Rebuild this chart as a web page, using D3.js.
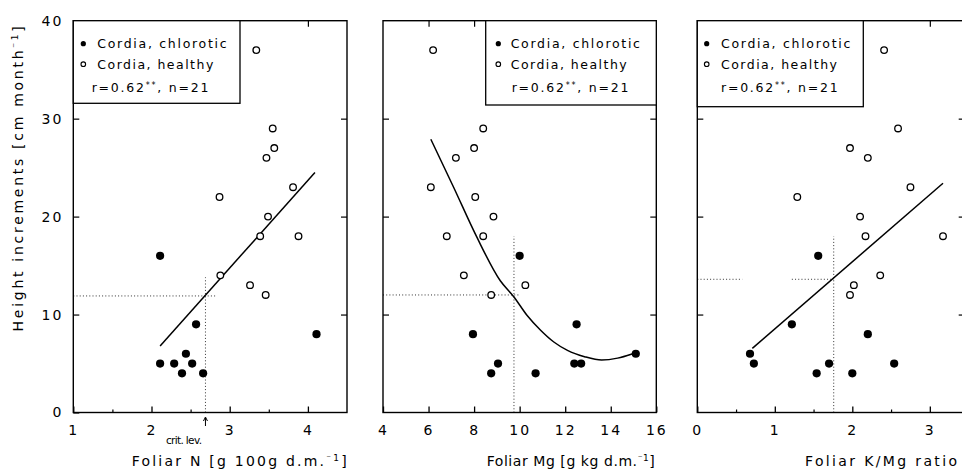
<!DOCTYPE html>
<html>
<head>
<meta charset="utf-8">
<script src="https://cdn.jsdelivr.net/npm/d3@7"></script>
<style>
  body { margin: 0; background: #fff; }
  svg { display: block; }
  text { font-family: "DejaVu Sans", sans-serif; fill: #000; }
</style>
</head>
<body>
<svg id="chart" width="962" height="472"></svg>
<script>
// ---------- DATA ----------
const yTickValues = [0, 10, 20, 30, 40];
const legendLabels = ["Cordia, chlorotic", "Cordia, healthy"];
const statLabel = "r=0.62";
const statStars = "**";
const statN = ", n=21";

// Panel 1: Foliar N
const nTicks = [1, 2, 3, 4];
const nMinorTicks = [1.5, 2.5, 3.5];
const nHealthy = [[3.34,37],[3.55,29],[3.57,27],[3.47,26],[3.81,23],[2.87,22],[3.49,20],[3.39,18],[3.88,18],[2.88,14],[3.26,13],[3.46,12]];
const nChlorotic = [[2.11,16],[2.57,9],[4.11,8],[2.44,6],[2.11,5],[2.29,5],[2.52,5],[2.39,4],[2.66,4]];
const nFit = [[2.11,6.8],[4.09,24.5]];
const nCritX = 2.69, nCritY = 11.9, nCritTop = 13.8, nCritRight = 2.83;

// Panel 2: Foliar Mg
const mgTicks = [4, 6, 8, 10, 12, 14, 16];
const mgHealthy = [[6.2,37],[8.4,29],[8.0,27],[7.2,26],[6.1,23],[8.05,22],[8.85,20],[6.8,18],[8.4,18],[7.55,14],[10.25,13],[8.75,12]];
const mgChlorotic = [[10.0,16],[7.95,8],[12.5,9],[9.05,5],[8.75,4],[10.7,4],[12.4,5],[12.7,5],[15.1,6]];
const mgFit = [[6.1,27.9],[7.1,23.0],[8.1,18.0],[9.15,13.45],[9.75,11.8],[10.33,9.9],[10.92,8.4],[11.5,7.2],[12.1,6.35],[12.85,5.7],[13.6,5.35],[14.3,5.55],[14.9,5.95],[15.2,6.2]];
const mgCritX = 9.75, mgCritY = 12.0, mgCritTop = 18.0, mgCritRight = 9.95;

// Panel 3: Foliar K/Mg ratio
const kTicks = [0, 1, 2, 3];
const kMinorTicks = [0.5, 1.5, 2.5];
const kHealthy = [[2.41,37],[2.59,29],[1.97,27],[2.2,26],[2.75,23],[1.29,22],[2.1,20],[2.17,18],[3.17,18],[2.36,14],[2.02,13],[1.97,12]];
const kChlorotic = [[1.56,16],[1.22,9],[2.2,8],[0.68,6],[0.73,5],[1.7,5],[2.54,5],[1.54,4],[2.0,4]];
const kFit = [[0.71,6.55],[3.17,23.4]];
const kCritX = 1.76, kCritY = 13.6, kCritTop = 18.0;
const kCritSegments = [[0, 0.58], [1.22, 1.76]];

// ---------- LAYOUT ----------
const svg = d3.select("#chart");
const yTop = 20.7, yBottom = 412.5;
const y = d3.scaleLinear().domain([0, 40]).range([yBottom, yTop]);

const panels = [
  { left: 73.3, right: 347, domain: [1, 4.5], ticks: nTicks, minor: nMinorTicks, topTicks: [2,3,4],
    healthy: nHealthy, chlorotic: nChlorotic, fit: nFit, curve: d3.curveLinear,
    critX: nCritX, critY: nCritY, critTop: nCritTop, hSegs: [[1, nCritRight]],
    legend: { x: 73.3, w: 166.7, h: 82.6, mx: 10, tx: 24, rx: 18.4 },
    title: ["Foliar N [g 100g d.m.", "\u207B1", "]"], titleX: 131.7, titleW: 215, yLabels: true },
  { left: 383, right: 656.3, domain: [4, 16], ticks: mgTicks, minor: [], topTicks: [6,8,10,12,14],
    healthy: mgHealthy, chlorotic: mgChlorotic, fit: mgFit, curve: d3.curveMonotoneX,
    critX: mgCritX, critY: mgCritY, critTop: mgCritTop, hSegs: [[4, mgCritRight]],
    legend: { x: 485.7, w: 170.6, h: 84.3, mx: 12.6, tx: 25, rx: 26 },
    title: ["Foliar Mg [g kg d.m.", "\u207B1", "]"], titleX: 486.7, titleW: 168, yLabels: false },
  { left: 697.3, right: 964.7, domain: [0, 3.45], ticks: kTicks, minor: kMinorTicks, topTicks: [1,2,3],
    healthy: kHealthy, chlorotic: kChlorotic, fit: kFit, curve: d3.curveLinear,
    critX: kCritX, critY: kCritY, critTop: kCritTop, hSegs: kCritSegments,
    legend: { x: 697.3, w: 166, h: 86, mx: 9.4, tx: 23.7, rx: 23.7 },
    title: ["Foliar K/Mg ratio"], titleX: 805, titleW: 152, yLabels: false }
];

function fitWidth(sel, target) {
  const node = sel.node();
  const n = node.getNumberOfChars();
  const w = node.getComputedTextLength();
  if (n > 1) sel.attr("letter-spacing", ((target - w) / (n - 1)).toFixed(3));
}

panels.forEach((p, i) => {
  const x = d3.scaleLinear().domain(p.domain).range([p.left, p.right]);
  const g = svg.append("g");

  // dotted critical lines
  const dot = { stroke: "#333", "stroke-width": 1, "stroke-dasharray": "1,2.2" };
  const vline = g.append("line")
    .attr("x1", x(p.critX)).attr("x2", x(p.critX))
    .attr("y1", y(0)).attr("y2", y(p.critTop));
  const hl = g.selectAll(".h").data(p.hSegs).join("line")
    .attr("x1", d => x(d[0])).attr("x2", d => x(d[1]))
    .attr("y1", y(p.critY)).attr("y2", y(p.critY));
  [vline, hl].forEach(s => Object.entries(dot).forEach(([k, v]) => s.attr(k, v)));

  // bottom axis major with labels
  const bAx = g.append("g").attr("transform", `translate(0,${yBottom})`)
    .call(d3.axisBottom(x).tickValues(p.ticks).tickSize(-6).tickPadding(13).tickFormat(d3.format("d")));
  bAx.select(".domain").remove();
  bAx.selectAll("line").attr("stroke-width", 1.3);
  bAx.selectAll("text").attr("font-size", 14).attr("letter-spacing", 2)
    .attr("font-family", "DejaVu Sans").attr("fill", "#000");
  // bottom minor
  if (p.minor.length) {
    const mAx = g.append("g").attr("transform", `translate(0,${yBottom})`)
      .call(d3.axisBottom(x).tickValues(p.minor).tickSize(-3).tickFormat(""));
    mAx.select(".domain").remove();
    mAx.selectAll("line").attr("stroke-width", 1.2);
  }
  // top ticks
  const tAx = g.append("g").attr("transform", `translate(0,${yTop})`)
    .call(d3.axisTop(x).tickValues(p.topTicks).tickSize(-6).tickFormat(""));
  tAx.select(".domain").remove();
  tAx.selectAll("line").attr("stroke-width", 1.2);
  // left axis
  const lAx = g.append("g").attr("transform", `translate(${p.left},0)`)
    .call(d3.axisLeft(y).tickValues(p.yLabels ? yTickValues : [10, 20, 30]).tickSize(-6).tickPadding(10)
      .tickFormat(p.yLabels ? d3.format("d") : ""));
  lAx.select(".domain").remove();
  lAx.selectAll("line").attr("stroke-width", 1.2);
  lAx.selectAll("text").attr("font-size", 14).attr("letter-spacing", 2)
    .attr("font-family", "DejaVu Sans").attr("fill", "#000");
  // right ticks
  const rAx = g.append("g").attr("transform", `translate(${p.right},0)`)
    .call(d3.axisRight(y).tickValues([10, 20, 30]).tickSize(-6).tickFormat(""));
  rAx.select(".domain").remove();
  rAx.selectAll("line").attr("stroke-width", 1.2);

  // frame
  g.append("rect").attr("x", p.left).attr("y", yTop)
    .attr("width", p.right - p.left).attr("height", yBottom - yTop)
    .attr("fill", "none").attr("stroke", "#000").attr("stroke-width", 1.4);

  // fit line
  g.append("path").datum(p.fit)
    .attr("d", d3.line().x(d => x(d[0])).y(d => y(d[1])).curve(p.curve))
    .attr("fill", "none").attr("stroke", "#000").attr("stroke-width", 1.5);

  // points
  g.selectAll(".ch").data(p.chlorotic).join("circle")
    .attr("cx", d => x(d[0])).attr("cy", d => y(d[1])).attr("r", 4.1).attr("fill", "#000");
  g.selectAll(".he").data(p.healthy).join("circle")
    .attr("cx", d => x(d[0])).attr("cy", d => y(d[1])).attr("r", 3.3)
    .attr("fill", "#fff").attr("stroke", "#000").attr("stroke-width", 1.3);

  // legend
  const L = p.legend;
  g.append("rect").attr("x", L.x).attr("y", yTop).attr("width", L.w).attr("height", L.h)
    .attr("fill", "#fff").attr("stroke", "#000").attr("stroke-width", 1.3);
  const rows = [yTop + 23, yTop + 43.5];
  g.append("circle").attr("cx", L.x + L.mx).attr("cy", rows[0]).attr("r", 2.6).attr("fill", "#000");
  g.append("circle").attr("cx", L.x + L.mx).attr("cy", rows[1]).attr("r", 2.3)
    .attr("fill", "#fff").attr("stroke", "#000").attr("stroke-width", 1.1);
  const lt0 = g.append("text").attr("x", L.x + L.tx).attr("y", rows[0] + 4.5).attr("font-size", 12.5).text(legendLabels[0]);
  fitWidth(lt0, 129.3);
  const lt1 = g.append("text").attr("x", L.x + L.tx).attr("y", rows[1] + 4.5).attr("font-size", 12.5).text(legendLabels[1]);
  fitWidth(lt1, 116);
  const st = g.append("text").attr("x", L.x + L.rx).attr("y", yTop + 66.6 + 4.5).attr("font-size", 12.5);
  st.append("tspan").text(statLabel);
  st.append("tspan").attr("dy", -4).attr("font-size", 8).text(statStars);
  st.append("tspan").attr("dy", 4).text(statN);
  fitWidth(st, 116.7);

  // axis title
  const tt = g.append("text").attr("x", p.titleX).attr("y", 466).attr("font-size", 14);
  tt.append("tspan").text(p.title[0]);
  if (p.title.length > 1) {
    tt.append("tspan").attr("dy", -5).attr("font-size", 9).text(p.title[1]);
    tt.append("tspan").attr("dy", 5).text(p.title[2]);
  }
  fitWidth(tt, p.titleW);

  // critical level annotation on first panel
  if (i === 0) {
    g.append("line").attr("x1", x(p.critX)).attr("x2", x(p.critX))
      .attr("y1", 418).attr("y2", 426).attr("stroke", "#000").attr("stroke-width", 1);
    g.append("path")
      .attr("d", `M${x(p.critX) - 2},${421} L${x(p.critX)},${417} L${x(p.critX) + 2},${421}`)
      .attr("fill", "none").attr("stroke", "#000").attr("stroke-width", 1);
    const cl = g.append("text").attr("x", 166).attr("y", 444).attr("font-size", 10.5).text("crit. lev.");
    fitWidth(cl, 36);
  }
});

// y-axis title
const yt = svg.append("text")
  .attr("transform", "translate(23,177.5) rotate(-90)")
  .attr("text-anchor", "middle").attr("font-size", 14);
yt.append("tspan").text("Height increments [cm month");
yt.append("tspan").attr("dy", -5).attr("font-size", 9).text("\u207B1");
yt.append("tspan").attr("dy", 5).text("]");
fitWidth(yt, 305);
</script>
</body>
</html>
